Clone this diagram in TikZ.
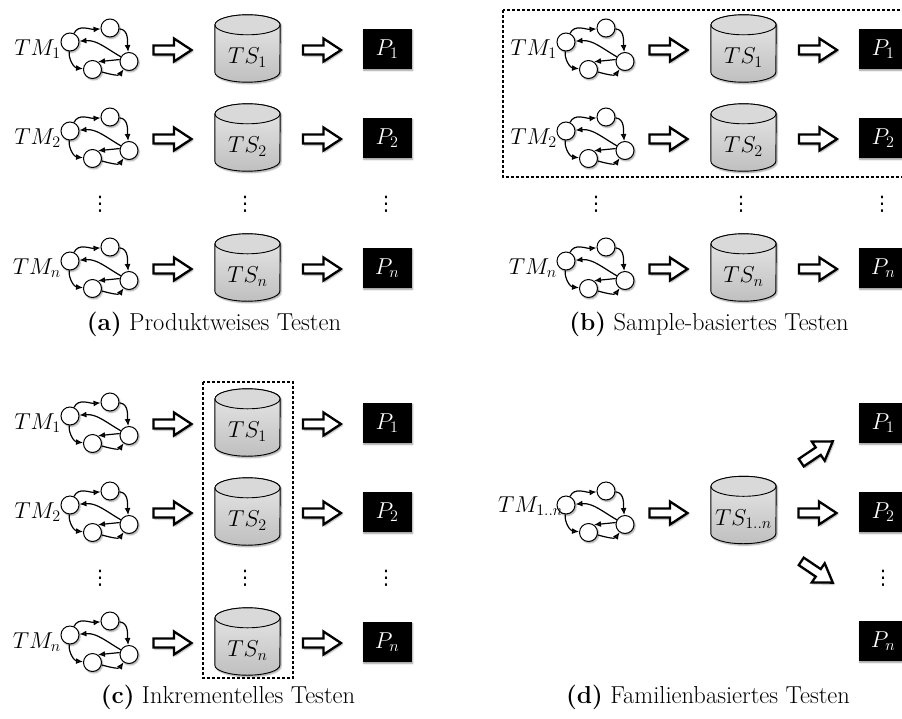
\RequirePackage{fix-cm}
\documentclass[tikz,border=0pt]{standalone}
\usepackage{fontspec}
\newfontfamily\dotsfont{DejaVu Sans}
\usetikzlibrary{arrows.meta,shadows.blur}

\tikzset{
  softshadow/.style={blur shadow={shadow xshift=1.2pt, shadow yshift=-1.5pt,
      shadow blur steps=4, shadow blur radius=1.5pt, shadow opacity=40}},
  gnode/.style={circle, draw, line width=1pt, fill=white, minimum size=18pt,
      inner sep=0pt, softshadow},
  gedge/.style={line width=1.2pt, -{Latex[length=7pt,width=6pt]}},
  mathlabel/.style={font=\fontsize{23}{27}\selectfont, inner sep=0pt},
  tmlabel/.style={mathlabel, anchor=base east},
  tsframe/.style={minimum width=65pt, minimum height=67pt, inner sep=0pt},
  prodbox/.style={mathlabel, fill=black, text=white, minimum width=49pt,
      minimum height=40pt, softshadow},
  vdotsnode/.style={font=\dotsfont\fontsize{20}{24}\selectfont, inner sep=0pt},
  caption/.style={font=\fontsize{24.5}{28}\selectfont, inner sep=0pt},
  groupframe/.style={line width=2.7pt, dash pattern=on 2.6pt off 2.4pt},
  fatarrow/.pic={
    \draw[line width=2.3pt, line join=miter, fill=white, softshadow]
      (-19,-4.5) -- (1.5,-4.5) -- (1.5,-11.5) -- (19,0) -- (1.5,11.5)
      -- (1.5,4.5) -- (-19,4.5) -- cycle;
  }
}

% transition model: four states with their transitions
% #1 prefix, #2 x origin, #3 row centre, #4 label, #5 label x shift, #6 label baseline
\newcommand\tmgraph[6]{%
  \node[gnode] (#1-a) at (#2+70,#3-7) {};
  \node[gnode] (#1-b) at (#2+110,#3-21) {};
  \node[gnode] (#1-c) at (#2+129,#3+12.5) {};
  \node[gnode] (#1-d) at (#2+92.5,#3+20.5) {};
  \draw[gedge] (#1-a) to[out=65,in=185] (#1-b);
  \draw[gedge] (#1-b) to[out=-5,in=95] (#1-c);
  \draw[gedge] (#1-c) to[out=150,in=5] (#1-a);
  \draw[gedge] (#1-a) to[out=-95,in=175] (#1-d);
  \draw[gedge] (#1-c.168) -- (#1-d.55);
  \draw[gedge] (#1-d) to[out=-15,in=-125] (#1-c);
  \node[tmlabel] (#1-l) at (#2+61+#5,#3+#6) {$#4$};
}

% test suite drawn as a database cylinder
% #1 name, #2 centre x, #3 centre y, #4 label
\newcommand\tsuite[4]{%
  \node[tsframe] (#1) at (#2,#3) {};
  \shadedraw[top color=gray!18, bottom color=gray!50, draw=black, line width=0.9pt, softshadow]
    ([yshift=-10pt]#1.north west) -- ([yshift=10pt]#1.south west)
    arc[start angle=180, end angle=360, x radius=32.5pt, y radius=10pt]
    -- ([yshift=-10pt]#1.north east)
    arc[start angle=0, end angle=180, x radius=32.5pt, y radius=10pt] -- cycle;
  \draw[fill=gray!30, line width=0.9pt] ([yshift=-10pt]#1.north)
    ellipse[x radius=32.5pt, y radius=10pt];
  \node[mathlabel] (#1-t) at ([yshift=-9pt]#1.center) {$#4$};
}

% one row: model => test suite => product
% #1 prefix, #2 x origin, #3 row centre, #4 index
\newcommand\pipeline[4]{%
  \tmgraph{#1-g}{#2}{#3}{TM_{#4}}{0}{6}
  \pic at (#2+172.5,#3+1) {fatarrow};
  \tsuite{#1-ts}{#2+247.5}{#3-0.5}{TS_{#4}}
  \pic at (#2+322,#3+1) {fatarrow};
  \node[prodbox] (#1-p) at (#2+387,#3) {$P_{#4}$};
}

% row of vertical ellipses
\newcommand\dotsrow[3]{%
  \node[vdotsnode] (#1-1) at (#2+100,#3) {⋮};
  \node[vdotsnode] (#1-2) at (#2+245,#3) {⋮};
  \node[vdotsnode] (#1-3) at (#2+386,#3) {⋮};
}

\begin{document}
\begin{tikzpicture}[x=1pt,y=-1pt]
\useasboundingbox (0,0) rectangle (902,718);

% (a) product-by-product testing
\pipeline{a1}{0}{49}{1}
\pipeline{a2}{0}{138}{2}
\dotsrow{adots}{0}{204}
\pipeline{an}{0}{268}{n}
\node[caption] (cap-a) at (214,324) {\textbf{(a)} Produktweises Testen};

% (b) sample-based testing
\pipeline{b1}{496}{49}{1}
\pipeline{b2}{496}{138}{2}
\dotsrow{bdots}{496}{204}
\pipeline{bn}{496}{268}{n}
\draw[groupframe] (503,10) rectangle (912,177);
\node[caption] (cap-b) at (709,324) {\textbf{(b)} Sample-basiertes Testen};

% (c) incremental testing
\pipeline{c1}{0}{423}{1}
\pipeline{c2}{0}{512}{2}
\dotsrow{cdots}{0}{578}
\pipeline{cn}{0}{642}{n}
\draw[groupframe] (203,382) rectangle (293,678);
\node[caption] (cap-c) at (228,697) {\textbf{(c)} Inkrementelles Testen};

% (d) family-based testing
\tmgraph{d-g}{496}{512}{TM_{1..n}}{6}{0}
\pic at (668.5,513) {fatarrow};
\tsuite{d-ts}{743.5}{510}{TS_{1..n}}
\pic[rotate=34] at (817,452) {fatarrow};
\pic at (817.5,513) {fatarrow};
\pic[rotate=-34] at (817,572) {fatarrow};
\node[prodbox] (d-p1) at (883,423) {$P_1$};
\node[prodbox] (d-p2) at (883,512) {$P_2$};
\node[vdotsnode] (d-dots) at (883,578) {⋮};
\node[prodbox] (d-pn) at (883,641) {$P_n$};
\node[caption] (cap-d) at (708,697) {\textbf{(d)} Familienbasiertes Testen};
\end{tikzpicture}
\end{document}
